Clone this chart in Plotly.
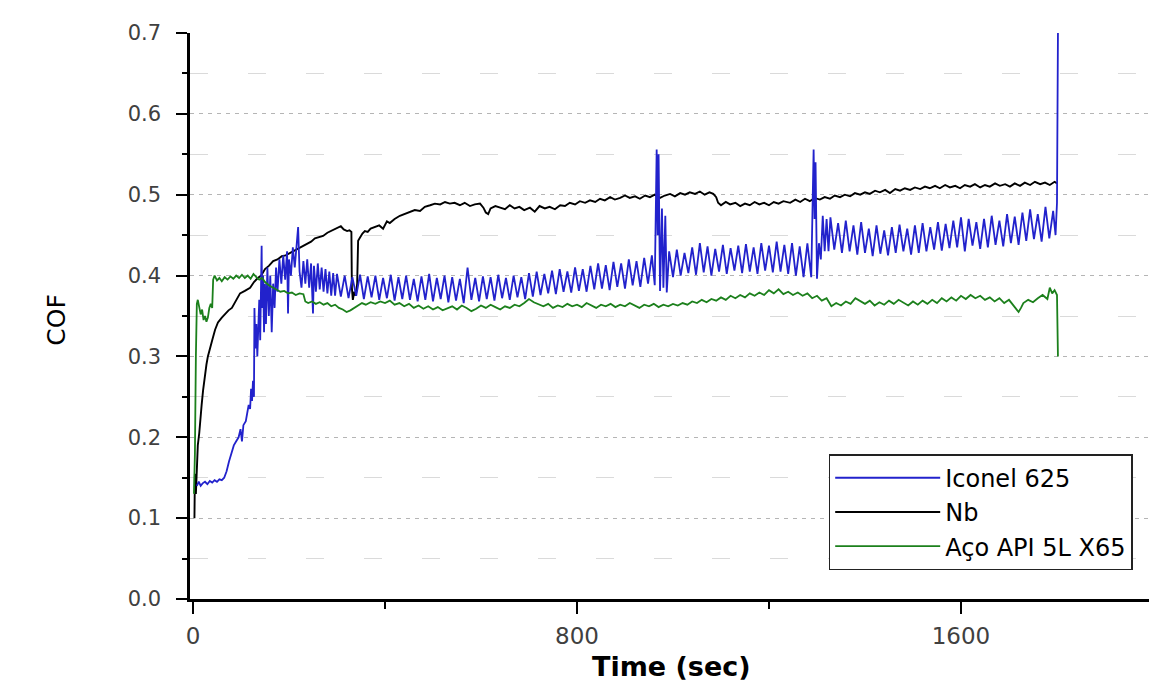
import plotly.graph_objects as go

# ---------------- data ----------------
nb_t = [3, 4, 6, 8, 10, 13, 15, 18, 21, 25,
        28, 31, 35, 40, 46, 52, 60, 67, 74, 81,
        90, 98, 108, 119, 127, 135, 142, 150, 158, 167,
        176, 185, 193, 202, 211, 220, 229, 238, 246, 254,
        262, 271, 280, 290, 300, 308, 314, 321, 326, 330,
        331, 333, 336, 339, 342, 344, 348, 353, 358, 364,
        370, 379, 388, 396, 404, 410, 420, 431, 441, 452,
        462, 473, 483, 494, 504, 515, 525, 535, 545, 556,
        566, 577, 587, 598, 605, 610, 615, 620, 630, 640,
        650, 660, 670, 680, 690, 702, 712, 722, 733, 743,
        754, 765, 775, 785, 796, 806, 817, 827, 838, 848,
        858, 869, 879, 890, 900, 910, 921, 931, 942, 952,
        962, 973, 983, 994, 1004, 1015, 1025, 1035, 1046, 1056,
        1066, 1076, 1084, 1090, 1094, 1100, 1110, 1119, 1130, 1140,
        1150, 1160, 1170, 1180, 1190, 1200, 1210, 1220, 1230, 1244,
        1255, 1265, 1275, 1285, 1295, 1306, 1316, 1327, 1337, 1348,
        1358, 1369, 1379, 1390, 1400, 1410, 1421, 1431, 1442, 1452,
        1463, 1473, 1483, 1494, 1504, 1515, 1525, 1535, 1546, 1556,
        1567, 1577, 1588, 1598, 1608, 1619, 1629, 1640, 1650, 1660,
        1671, 1681, 1692, 1702, 1712, 1723, 1733, 1744, 1754, 1765,
        1775, 1785, 1795, 1800]
nb_cof = [0.10, 0.155, 0.13, 0.17, 0.19, 0.205, 0.225, 0.24, 0.258, 0.28,
          0.29, 0.30, 0.31, 0.32, 0.333, 0.342, 0.348, 0.353, 0.357, 0.36,
          0.37, 0.378, 0.381, 0.385, 0.392, 0.397, 0.40, 0.408, 0.412, 0.418,
          0.42, 0.424, 0.425, 0.428, 0.431, 0.433, 0.437, 0.44, 0.442, 0.446,
          0.447, 0.449, 0.453, 0.456, 0.458, 0.461, 0.457, 0.455, 0.456, 0.454,
          0.385, 0.37, 0.38, 0.375, 0.39, 0.443, 0.447, 0.452, 0.455, 0.454,
          0.458, 0.46, 0.462, 0.458, 0.467, 0.465, 0.47, 0.474, 0.476, 0.479,
          0.481, 0.48, 0.485, 0.487, 0.489, 0.488, 0.491, 0.489, 0.49, 0.487,
          0.49, 0.486, 0.488, 0.489, 0.484, 0.478, 0.476, 0.483, 0.486, 0.484,
          0.482, 0.487, 0.483, 0.485, 0.481, 0.484, 0.479, 0.486, 0.483, 0.485,
          0.482, 0.487, 0.486, 0.49, 0.488, 0.492, 0.49, 0.493, 0.491, 0.495,
          0.493, 0.497, 0.494, 0.496, 0.499, 0.496, 0.498, 0.495, 0.499, 0.497,
          0.5, 0.496, 0.499, 0.501, 0.498, 0.502, 0.5, 0.503, 0.501, 0.504,
          0.5, 0.503, 0.501, 0.497, 0.49, 0.487, 0.491, 0.488, 0.49, 0.486,
          0.489, 0.487, 0.491, 0.488, 0.49, 0.487, 0.491, 0.489, 0.492, 0.49,
          0.494, 0.491, 0.495, 0.492, 0.496, 0.494, 0.497, 0.495, 0.499, 0.497,
          0.5, 0.498, 0.502, 0.5, 0.503, 0.501, 0.505, 0.503, 0.506, 0.502,
          0.507, 0.505, 0.508, 0.506, 0.509, 0.507, 0.51, 0.508, 0.511, 0.508,
          0.512, 0.509, 0.511, 0.508, 0.512, 0.51, 0.513, 0.509, 0.512, 0.51,
          0.514, 0.511, 0.513, 0.51, 0.514, 0.511, 0.515, 0.512, 0.516, 0.513,
          0.515, 0.512, 0.516, 0.514]

aco_t = [2, 4, 6, 8, 10, 13, 16, 19, 22, 25,
         28, 31, 34, 37, 40, 42, 45, 50, 55, 60,
         66, 72, 78, 84, 90, 96, 102, 108, 114, 120,
         126, 132, 138, 144, 150, 158, 166, 174, 182, 190,
         198, 206, 214, 222, 230, 234, 240, 248, 256, 264,
         272, 280, 288, 296, 304, 312, 320, 328, 336, 344,
         352, 360, 370, 380, 390, 400, 410, 420, 430, 440,
         450, 460, 470, 480, 490, 500, 510, 520, 530, 540,
         550, 560, 570, 580, 590, 600, 610, 620, 630, 640,
         650, 660, 670, 680, 690, 700, 710, 720, 730, 740,
         750, 760, 770, 780, 790, 800, 810, 820, 830, 840,
         850, 860, 870, 880, 890, 900, 910, 920, 930, 940,
         950, 960, 970, 980, 990, 1000, 1010, 1020, 1030, 1040,
         1050, 1060, 1070, 1080, 1090, 1100, 1110, 1120, 1130, 1140,
         1150, 1160, 1170, 1180, 1190, 1200, 1210, 1220, 1230, 1240,
         1250, 1260, 1270, 1280, 1290, 1300, 1310, 1320, 1330, 1340,
         1350, 1360, 1370, 1380, 1390, 1400, 1410, 1420, 1430, 1440,
         1450, 1460, 1470, 1480, 1490, 1500, 1510, 1520, 1530, 1540,
         1550, 1560, 1570, 1580, 1590, 1600, 1610, 1620, 1630, 1640,
         1650, 1660, 1670, 1680, 1690, 1700, 1710, 1720, 1725, 1730,
         1740, 1750, 1760, 1770, 1780, 1785, 1790, 1795, 1800, 1802]
aco_cof = [0.13, 0.18, 0.30, 0.365, 0.37, 0.36, 0.352, 0.358, 0.345, 0.35,
           0.343, 0.348, 0.36, 0.365, 0.36, 0.395, 0.40, 0.394, 0.397, 0.393,
           0.398, 0.395, 0.399, 0.396, 0.4, 0.397, 0.401, 0.397, 0.4, 0.396,
           0.402, 0.398, 0.395, 0.397, 0.392, 0.388, 0.385, 0.383, 0.38, 0.381,
           0.378, 0.379, 0.376, 0.378, 0.377, 0.368, 0.366, 0.368, 0.365, 0.367,
           0.364, 0.366, 0.362, 0.364, 0.36, 0.358, 0.355, 0.357, 0.36, 0.363,
           0.366, 0.364, 0.367, 0.365, 0.368, 0.366, 0.369, 0.364, 0.366, 0.362,
           0.365, 0.36, 0.363, 0.359, 0.362, 0.358, 0.361, 0.357, 0.36, 0.362,
           0.358, 0.363, 0.36, 0.356, 0.359, 0.363, 0.36, 0.364, 0.361, 0.358,
           0.362, 0.36, 0.364, 0.362, 0.366, 0.371, 0.367, 0.364, 0.362, 0.365,
           0.36, 0.363, 0.361, 0.365, 0.362, 0.364, 0.361, 0.366, 0.363, 0.36,
           0.364, 0.362, 0.365, 0.361, 0.364, 0.362, 0.366, 0.363, 0.36, 0.364,
           0.362, 0.365, 0.361, 0.364, 0.362, 0.365, 0.363, 0.366, 0.364, 0.368,
           0.366, 0.37, 0.367, 0.371, 0.369, 0.373, 0.37, 0.375, 0.372, 0.376,
           0.373, 0.378, 0.375, 0.379, 0.376, 0.382, 0.378, 0.383, 0.377, 0.38,
           0.376, 0.379, 0.375, 0.378, 0.372, 0.375, 0.369, 0.372, 0.362, 0.366,
           0.363, 0.368, 0.365, 0.372, 0.368, 0.365, 0.369, 0.363, 0.367, 0.364,
           0.369, 0.365, 0.37, 0.366, 0.363, 0.368, 0.364, 0.369, 0.365, 0.37,
           0.366, 0.372, 0.368, 0.373, 0.369, 0.375, 0.371, 0.376, 0.372, 0.375,
           0.37, 0.373, 0.368, 0.372, 0.366, 0.37, 0.362, 0.355, 0.36, 0.366,
           0.37, 0.367, 0.372, 0.376, 0.371, 0.385, 0.378, 0.382, 0.376, 0.30]

iconel_t = [8, 12, 16, 20, 25, 30, 35, 40, 45, 50,
            55, 60, 65, 70, 75, 80, 85, 90, 95, 99,
            102, 105, 110, 113, 116, 119, 121, 123, 125, 127,
            128, 130, 132, 134, 136, 138, 140, 143, 144, 146,
            148, 150, 152, 155, 158, 161, 164, 167, 170, 173,
            176, 180, 184, 188, 192, 196, 198, 200, 204, 208,
            212, 216, 219, 222, 226, 230, 234, 238, 242, 246,
            250, 252, 256, 260, 264, 268, 272, 276, 280, 284,
            288, 292, 296,
            300, 308, 316, 324, 332, 340, 348, 356, 364, 372,
            380, 388, 396, 404, 412, 420, 428, 436, 444, 452,
            460, 468, 476, 484, 492, 500, 508, 516, 524, 532,
            540, 548, 556, 564, 572, 580, 588, 596, 604, 612,
            620, 628, 636, 644, 652, 660, 668, 676, 684, 692,
            700, 708, 716, 724, 732, 740, 748, 756, 764, 772,
            780, 788, 796, 804, 812, 820, 828, 836, 844, 852,
            860, 868, 876, 884, 892, 900, 908, 916, 924, 932,
            940, 948, 956, 962, 966, 968, 970, 973, 977, 980, 984, 987,
            992, 1000, 1008, 1016, 1024, 1032, 1040, 1048, 1056, 1064,
            1072, 1080, 1088, 1096, 1104, 1112, 1120, 1128, 1136, 1144,
            1152, 1160, 1168, 1176, 1184, 1192, 1200, 1208, 1216, 1224,
            1232, 1240, 1248, 1256, 1264, 1272, 1280,
            1288, 1293, 1295, 1297, 1300, 1304, 1308, 1312, 1316, 1320, 1324,
            1328, 1336, 1344, 1352, 1360, 1368, 1376, 1384, 1392, 1400,
            1408, 1416, 1424, 1432, 1440, 1448, 1456, 1464, 1472, 1480,
            1488, 1496, 1504, 1512, 1520, 1528, 1536, 1544, 1552, 1560,
            1568, 1576, 1584, 1592, 1600, 1608, 1616, 1624, 1632, 1640,
            1648, 1656, 1664, 1672, 1680, 1688, 1696, 1704, 1712, 1720,
            1728, 1736, 1744, 1752, 1760, 1768, 1776, 1784, 1792,
            1797, 1800, 1802]
iconel_cof = [0.14, 0.145, 0.14, 0.143, 0.145, 0.142, 0.146, 0.144, 0.147, 0.145,
              0.148, 0.147, 0.15, 0.158, 0.17, 0.18, 0.19, 0.195, 0.2, 0.21,
              0.195, 0.215, 0.22, 0.23, 0.24, 0.235, 0.26, 0.245, 0.27, 0.25,
              0.36, 0.31, 0.34, 0.30, 0.33, 0.37, 0.32, 0.437, 0.36, 0.40,
              0.33, 0.39, 0.34, 0.41, 0.35, 0.40, 0.33, 0.39, 0.36, 0.41,
              0.38, 0.42, 0.39, 0.425, 0.395, 0.43, 0.353, 0.42, 0.40, 0.435,
              0.41, 0.44, 0.46, 0.405, 0.385, 0.418, 0.39, 0.42, 0.385, 0.415,
              0.353, 0.412, 0.38, 0.415, 0.383, 0.41, 0.38, 0.408, 0.378, 0.405,
              0.375, 0.403, 0.375,
              0.402, 0.374, 0.4, 0.372, 0.398, 0.375, 0.401, 0.371, 0.399, 0.373,
              0.4, 0.37, 0.397, 0.372, 0.401, 0.369, 0.398, 0.371, 0.4, 0.37,
              0.396, 0.368, 0.399, 0.37, 0.402, 0.368, 0.397, 0.371, 0.4, 0.367,
              0.398, 0.369, 0.396, 0.366, 0.41, 0.37, 0.397, 0.368, 0.399, 0.371,
              0.398, 0.369, 0.401, 0.372, 0.397, 0.37, 0.4, 0.373, 0.398, 0.371,
              0.403, 0.374, 0.405, 0.376, 0.402, 0.378, 0.406, 0.377, 0.408, 0.38,
              0.405, 0.379, 0.41, 0.381, 0.408, 0.38, 0.412, 0.383, 0.415, 0.384,
              0.413, 0.382, 0.417, 0.386, 0.415, 0.384, 0.42, 0.388, 0.418, 0.386,
              0.422, 0.39, 0.425, 0.388, 0.556, 0.45, 0.55, 0.381, 0.483, 0.385, 0.474, 0.379,
              0.43, 0.398, 0.432, 0.4, 0.428, 0.403, 0.435, 0.401, 0.44, 0.404,
              0.436, 0.4, 0.433, 0.405, 0.438, 0.402, 0.434, 0.406, 0.437, 0.403,
              0.439, 0.405, 0.435, 0.402, 0.44, 0.406, 0.437, 0.404, 0.442, 0.405,
              0.438, 0.402, 0.44, 0.4, 0.436, 0.398, 0.44,
              0.398, 0.556, 0.47, 0.54, 0.396, 0.44, 0.42, 0.474, 0.43, 0.47, 0.43,
              0.472, 0.432, 0.465, 0.428, 0.468, 0.43, 0.462, 0.426, 0.466, 0.428,
              0.458, 0.424, 0.462, 0.427, 0.456, 0.425, 0.46, 0.428, 0.463, 0.43,
              0.458, 0.426, 0.462, 0.428, 0.465, 0.43, 0.46, 0.432, 0.466, 0.431,
              0.464, 0.434, 0.468, 0.435, 0.472, 0.43, 0.47, 0.437, 0.466, 0.433,
              0.47, 0.435, 0.474, 0.438, 0.468, 0.436, 0.476, 0.44, 0.473, 0.438,
              0.478, 0.443, 0.482, 0.445, 0.476, 0.442, 0.485, 0.446, 0.48,
              0.45, 0.49, 0.70]

assert len(nb_t) == len(nb_cof), (len(nb_t), len(nb_cof))
assert len(aco_t) == len(aco_cof), (len(aco_t), len(aco_cof))
assert len(iconel_t) == len(iconel_cof), (len(iconel_t), len(iconel_cof))

x_major = [0, 800, 1600]
x_minor = [400, 1200]
y_major = [0.0, 0.1, 0.2, 0.3, 0.4, 0.5, 0.6, 0.7]
y_labels = ["0.0", "0.1", "0.2", "0.3", "0.4", "0.5", "0.6", "0.7"]
y_minor = [0.05, 0.15, 0.25, 0.35, 0.45, 0.55, 0.65]
y_grid = [0.1, 0.2, 0.3, 0.4, 0.5, 0.6]

FONT = "DejaVu Sans, Liberation Sans, Arial, sans-serif"

fig = go.Figure()
fig.add_trace(go.Scatter(x=nb_t, y=nb_cof, mode="lines", name="Nb",
                         line=dict(color="#000000", width=1.9), legendrank=2))
fig.add_trace(go.Scatter(x=iconel_t, y=iconel_cof, mode="lines", name="Iconel 625",
                         line=dict(color="#2222cc", width=1.8), legendrank=1))
fig.add_trace(go.Scatter(x=aco_t, y=aco_cof, mode="lines", name="Aço API 5L X65",
                         line=dict(color="#1c801c", width=1.8), legendrank=3))
# carrier for the grid-only overlay axis
fig.add_trace(go.Scatter(x=[None], y=[None], yaxis="y2", showlegend=False,
                         hoverinfo="skip"))

fig.update_layout(
    width=1149, height=687,
    margin=dict(l=190, r=0, t=33, b=88),
    paper_bgcolor="white", plot_bgcolor="white",
    font=dict(family=FONT, color="#000000"),
    xaxis=dict(
        range=[-6.25, 1991.7], showline=True, linecolor="#000", linewidth=2.5,
        ticks="outside", ticklen=12, tickwidth=2, tickcolor="#000",
        tickvals=x_major, ticktext=[str(v) for v in x_major],
        tickfont=dict(size=23, color="#404040", family=FONT),
        ticklabelstandoff=3,
        showgrid=False, zeroline=False,
        minor=dict(tickvals=x_minor, ticks="outside", ticklen=7, tickwidth=2,
                   tickcolor="#000", showgrid=False),
    ),
    yaxis=dict(
        range=[0, 0.7], showline=True, linecolor="#000", linewidth=2.5,
        ticks="outside", ticklen=11, tickwidth=2, tickcolor="#000",
        tickvals=y_major, ticktext=y_labels,
        tickfont=dict(size=21, color="#404040", family=FONT),
        ticklabelstandoff=11,
        showgrid=False, zeroline=False,
        minor=dict(tickvals=y_minor, ticks="outside", ticklen=5, tickwidth=2,
                   tickcolor="#000", showgrid=False),
    ),
    yaxis2=dict(
        range=[0, 0.7], overlaying="y", side="left", showline=False,
        tickvals=y_grid, showticklabels=False, ticks="",
        showgrid=True, gridcolor="#b5b5b5", gridwidth=1, griddash="4px,5px",
        zeroline=False,
        minor=dict(tickvals=y_minor, showgrid=True, gridcolor="#dadada",
                   gridwidth=1, griddash="18px,40px", ticks=""),
    ),
    legend=dict(
        x=0.983, xanchor="right", y=0.051, yanchor="bottom",
        bordercolor="#222", borderwidth=1.5, bgcolor="white",
        font=dict(size=24, color="#000", family=FONT),
        itemwidth=105, tracegroupgap=0,
    ),
    annotations=[
        dict(text="COF", xref="paper", yref="paper", x=-0.139, y=0.493,
             xanchor="center", yanchor="middle", textangle=-90, showarrow=False,
             font=dict(size=25, color="#000", family=FONT)),
        dict(text="<b>Time (sec)</b>", xref="paper", yref="paper", x=0.5026, y=-0.12,
             xanchor="center", yanchor="middle", showarrow=False,
             font=dict(size=27, color="#000", family=FONT)),
    ],
)

fig.write_html("out.html", config={"displayModeBar": False},
               post_script="document.body.style.margin='0';")
